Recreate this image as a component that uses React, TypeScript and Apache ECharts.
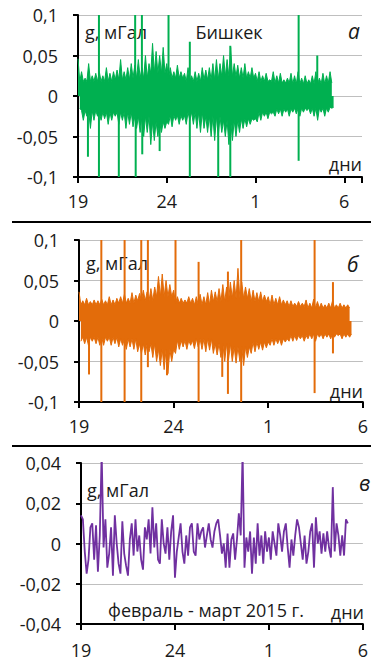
import React, { useEffect, useRef } from "react";
import * as echarts from "echarts";

// ---- data ----
const dayTickLabels = ["19", "24", "1", "6"]; // Feb 19, Feb 24, Mar 1, Mar 6
const bandStep = 0.2; // days between envelope readings

// Panel a (Bishkek, green): upper / lower envelope of the noise band, mGal
const aUpper = [
  0.046, 0.03, 0.022, 0.04, 0.025, 0.028, 0.03, 0.025, 0.035, 0.028, 0.03,
  0.032, 0.045, 0.03, 0.035, 0.04, 0.038, 0.045, 0.035, 0.05, 0.04,
  0.065, 0.055, 0.05, 0.06, 0.04, 0.035, 0.03, 0.038, 0.03, 0.028,
  0.035, 0.025, 0.03, 0.028, 0.035, 0.032, 0.035, 0.04, 0.045, 0.04,
  0.05, 0.045, 0.06, 0.04, 0.038, 0.035, 0.04, 0.03, 0.035, 0.028,
  0.03, 0.025, 0.028, 0.02, 0.03, 0.025, 0.028, 0.02, 0.022, 0.028,
  0.025, 0.03, 0.022, 0.025, 0.02, 0.025, 0.03, 0.022, 0.028, 0.025, 0.03,
];
const aLower = [
  -0.015, -0.03, -0.025, -0.04, -0.03, -0.025, -0.03, -0.028, -0.035, -0.03, -0.025,
  -0.035, -0.03, -0.04, -0.035, -0.038, -0.04, -0.045, -0.05, -0.045, -0.06,
  -0.055, -0.05, -0.045, -0.04, -0.035, -0.038, -0.03, -0.035, -0.03, -0.035,
  -0.03, -0.035, -0.04, -0.045, -0.04, -0.045, -0.05, -0.055, -0.05, -0.045,
  -0.05, -0.06, -0.055, -0.05, -0.045, -0.04, -0.038, -0.035, -0.03, -0.032,
  -0.03, -0.025, -0.028, -0.022, -0.025, -0.022, -0.025, -0.02, -0.025, -0.02,
  -0.022, -0.025, -0.02, -0.018, -0.022, -0.025, -0.03, -0.02, -0.025, -0.02, -0.015,
];
// dense core of the band, one reading per day (upper / lower)
const aCoreUpper = [0.018, 0.018, 0.02, 0.022, 0.028, 0.022, 0.018, 0.02, 0.024, 0.022, 0.018, 0.016, 0.015, 0.015, 0.016];
const aCoreLower = [-0.018, -0.02, -0.02, -0.025, -0.032, -0.024, -0.02, -0.025, -0.03, -0.028, -0.02, -0.016, -0.015, -0.015, -0.014];
// isolated spikes [day, value]
const aSpikes = [
  [0.56, -0.075], [1.18, 0.1], [1.18, -0.1], [2.3, -0.1], [3.22, 0.1], [3.25, -0.1],
  [3.6, 0.1], [3.62, -0.072], [4.6, -0.068], [5.1, 0.1], [6.3, 0.067], [6.3, -0.1],
  [7.9, -0.1], [8.58, -0.1], [8.58, 0.062], [12.43, 0.1], [12.43, -0.08], [13.48, 0.05],
];

// Panel b (orange)
const bUpper = [
  0.036, 0.025, 0.028, 0.024, 0.026, 0.025, 0.027, 0.025, 0.03, 0.026, 0.028,
  0.03, 0.033, 0.028, 0.035, 0.032, 0.034, 0.038, 0.036, 0.04, 0.042,
  0.055, 0.058, 0.05, 0.045, 0.038, 0.03, 0.028, 0.026, 0.03, 0.028,
  0.03, 0.033, 0.03, 0.035, 0.038, 0.036, 0.04, 0.045, 0.042, 0.048,
  0.05, 0.065, 0.048, 0.042, 0.04, 0.038, 0.035, 0.036, 0.032, 0.03,
  0.032, 0.028, 0.03, 0.026, 0.025, 0.025, 0.022, 0.024, 0.022, 0.026,
  0.022, 0.027, 0.024, 0.022, 0.02, 0.022, 0.025, 0.02, 0.022, 0.02, 0.02,
];
const bLower = [
  -0.025, -0.028, -0.03, -0.025, -0.028, -0.03, -0.03, -0.025, -0.03, -0.028, -0.032,
  -0.03, -0.035, -0.032, -0.035, -0.038, -0.04, -0.042, -0.038, -0.045, -0.05,
  -0.055, -0.06, -0.065, -0.05, -0.04, -0.035, -0.032, -0.035, -0.03, -0.034,
  -0.032, -0.035, -0.038, -0.036, -0.04, -0.042, -0.045, -0.05, -0.048, -0.05,
  -0.052, -0.05, -0.055, -0.045, -0.04, -0.038, -0.035, -0.036, -0.033, -0.03,
  -0.03, -0.028, -0.03, -0.026, -0.025, -0.025, -0.024, -0.022, -0.025, -0.022,
  -0.022, -0.025, -0.02, -0.022, -0.02, -0.022, -0.02, -0.018, -0.022, -0.02, -0.02,
];
const bCoreUpper = [0.02, 0.02, 0.022, 0.025, 0.03, 0.022, 0.02, 0.024, 0.028, 0.024, 0.02, 0.018, 0.016, 0.016, 0.016];
const bCoreLower = [-0.02, -0.02, -0.022, -0.028, -0.035, -0.024, -0.022, -0.028, -0.032, -0.026, -0.022, -0.018, -0.016, -0.016, -0.016];
const bSpikes = [
  [0.53, -0.066], [1.18, 0.1], [1.18, -0.1], [2.41, 0.1], [2.41, -0.1], [3.29, 0.1],
  [3.29, -0.1], [3.64, 0.1], [3.64, -0.057], [4.65, -0.067], [5.1, 0.1], [6.32, 0.073],
  [6.32, -0.1], [7.57, -0.069], [7.87, 0.061], [7.87, -0.09], [8.57, 0.1], [8.57, -0.1],
  [12.45, 0.1], [12.45, -0.089], [13.42, 0.048], [13.42, -0.04],
];

// Panel c (purple): filtered signal, one reading every 0.1 day
const cStep = 0.1;
const cValues = [
  0.014, 0.012, -0.004, -0.015, -0.008, 0.008, 0.01, -0.008, 0.009, -0.014,
  0.004, 0.045, -0.002, 0.012, -0.012, -0.005, 0.008, -0.016, 0.014, 0.0,
  -0.01, -0.015, 0.011, -0.005, -0.011, -0.016, 0.002, 0.01, -0.006, 0.012,
  -0.004, 0.004, -0.008, -0.013, 0.008, 0.002, 0.012, -0.005, 0.018, -0.002,
  0.01, -0.008, -0.01, 0.012, 0.0, -0.005, 0.008, -0.008, 0.006, 0.014,
  -0.017, -0.004, 0.003, 0.01, -0.004, -0.01, 0.004, -0.006, 0.008, 0.01,
  -0.004, -0.006, 0.01, 0.002, 0.006, 0.008, -0.002, 0.004, 0.01, 0.002,
  -0.002, 0.006, 0.01, 0.012, 0.004, -0.005, 0.0, -0.012, 0.005, -0.012,
  0.002, 0.005, -0.008, 0.002, 0.015, 0.004, 0.045, -0.012, 0.003, -0.004,
  0.006, -0.015, 0.003, -0.01, 0.01, -0.006, 0.004, -0.01, 0.006, -0.004,
  0.003, -0.008, 0.006, 0.0, -0.006, 0.01, 0.004, -0.004, 0.006, 0.01,
  -0.002, -0.012, 0.002, -0.006, 0.004, 0.012, 0.008, 0.0, -0.008, 0.004,
  -0.01, -0.004, 0.006, 0.01, -0.012, 0.013, 0.0, 0.006, -0.005, 0.005,
  -0.004, 0.006, -0.002, -0.007, 0.028, -0.004, 0.01, 0.004, -0.006, 0.004,
  -0.006, 0.012, 0.01,
];

const GREEN = "#00b050";
const ORANGE = "#e36c0a";
const PURPLE = "#7030a0";
const FONT = "'Open Sans', 'Liberation Sans', sans-serif";
const TXT = "#1a1a1a";

const toPairs = (vals: number[], step: number) => vals.map((v, i) => [+(i * step).toFixed(2), v]);
// one side of the noise band: each envelope reading followed by the day's core level
const teeth = (edge: number[], core: number[], step: number, shift: number) => {
  const out: number[][] = [];
  edge.forEach((e, i) => {
    const d = i * step + shift;
    out.push([+d.toFixed(2), e]);
    out.push([+(d + step / 2).toFixed(2), core[Math.min(core.length - 1, Math.floor(d))]]);
  });
  return out;
};

const fmtY = (v: number) => String(parseFloat(v.toFixed(3))).replace(".", ",");
const fmtX = (v: number) => (v % 5 === 0 ? dayTickLabels[v / 5] ?? "" : "");

export default function App() {
  const ref = useRef<HTMLDivElement>(null);
  useEffect(() => {
    if (!ref.current) return;
    const chart = echarts.init(ref.current, undefined, { renderer: "svg" });

    const grids = [
      { left: 78, top: 15, width: 284, height: 162 },
      { left: 79, top: 240, width: 284, height: 162 },
      { left: 81, top: 463, width: 282, height: 161 },
    ];
    const xMax = [16, 15, 15];
    const xMargin = [17, 17, 19];
    const yRange = [0.1, 0.1, 0.04];
    const yInt = [0.05, 0.05, 0.02];

    const xAxis = grids.map((_, i) => ({
      type: "value",
      gridIndex: i,
      min: 0,
      max: xMax[i],
      interval: 5,
      axisLine: { show: true, onZero: false, lineStyle: { color: "#000", width: 2 } },
      axisTick: { show: true, length: 6, lineStyle: { color: "#000", width: 2 } },
      splitLine: { show: false },
      axisLabel: {
        formatter: fmtX,
        fontSize: 18,
        lineHeight: 14,
        fontFamily: FONT,
        color: TXT,
        margin: xMargin[i],
        showMaxLabel: true,
        showMinLabel: true,
        hideOverlap: false,
      },
    }));
    const yAxis = grids.map((_, i) => ({
      type: "value",
      gridIndex: i,
      min: -yRange[i],
      max: yRange[i],
      interval: yInt[i],
      axisLine: { show: true, lineStyle: { color: "#000", width: 2 } },
      axisTick: { show: true, length: 5, lineStyle: { color: "#000", width: 2 } },
      splitLine: { show: true, lineStyle: { color: "#bfbfbf", width: 1 } },
      axisLabel: { formatter: fmtY, fontSize: 18, fontFamily: FONT, color: TXT, margin: 20 },
    }));

    const half = (edge: number[], core: number[], shift: number, idx: number, color: string) => ({
      type: "line",
      xAxisIndex: idx,
      yAxisIndex: idx,
      data: teeth(edge, core, bandStep, shift),
      symbol: "none",
      lineStyle: { color, width: 1 },
      areaStyle: { color, opacity: 1 },
      silent: true,
    });
    const spikes = (vals: number[][], idx: number, color: string) => ({
      type: "bar",
      xAxisIndex: idx,
      yAxisIndex: idx,
      data: vals,
      barWidth: 2,
      itemStyle: { color },
      silent: true,
    });

    const text = (x: number, y: number, t: string, opts: any = {}) => ({
      type: "text",
      x,
      y,
      silent: true,
      style: {
        text: t,
        fill: TXT,
        fontSize: opts.fontSize ?? 18,
        fontFamily: FONT,
        fontStyle: opts.italic ? "italic" : "normal",
        align: opts.align ?? "left",
        verticalAlign: "middle",
        textAlign: opts.align ?? "left",
        textVerticalAlign: "middle",
      },
    });

    chart.setOption({
      animation: false,
      backgroundColor: "#ffffff",
      grid: grids,
      xAxis,
      yAxis,
      series: [
        half(aUpper, aCoreUpper, 0, 0, GREEN),
        half(aLower, aCoreLower, 0.1, 0, GREEN),
        spikes(aSpikes, 0, GREEN),
        half(bUpper, bCoreUpper, 0, 1, ORANGE),
        half(bLower, bCoreLower, 0.1, 1, ORANGE),
        spikes(bSpikes, 1, ORANGE),
        {
          type: "line",
          xAxisIndex: 2,
          yAxisIndex: 2,
          data: toPairs(cValues, cStep),
          symbol: "none",
          lineStyle: { color: PURPLE, width: 1.8 },
          silent: true,
        },
      ],
      graphic: [
        text(85, 32, "g, мГал"),
        text(229, 32, "Бишкек", { align: "center" }),
        text(348, 31, "а", { italic: true, fontSize: 21 }),
        text(362, 164, "дни", { align: "right" }),
        text(86, 263, "g, мГал"),
        text(347, 264, "б", { italic: true, fontSize: 21 }),
        text(363, 391, "дни", { align: "right" }),
        text(87, 490, "g, мГал"),
        text(359, 483, "в", { italic: true, fontSize: 21 }),
        text(108, 610, "февраль - март 2015 г."),
        text(364, 612, "дни", { align: "right" }),
        { type: "line", silent: true, shape: { x1: 12, y1: 222, x2: 371, y2: 222 }, style: { stroke: "#000", lineWidth: 2 } },
        { type: "line", silent: true, shape: { x1: 12, y1: 446, x2: 371, y2: 446 }, style: { stroke: "#000", lineWidth: 2 } },
      ],
    });
    return () => chart.dispose();
  }, []);
  return <div ref={ref} style={{ position: "absolute", left: 0, top: 0, width: 371, height: 661 }} />;
}
